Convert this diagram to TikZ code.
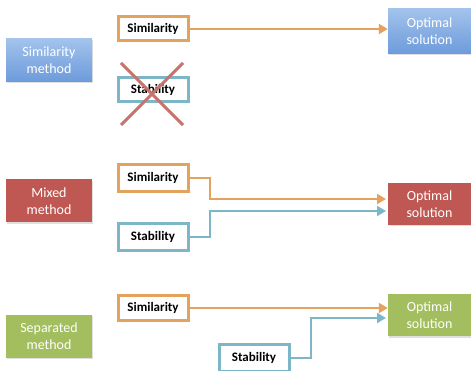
\documentclass[tikz,border=0pt]{standalone}
\usepackage{fontspec}
\setmainfont{Carlito}
\usetikzlibrary{arrows.meta,shadows}
\definecolor{orng}{HTML}{E3A35E}
\definecolor{blu}{HTML}{7DB6C6}
\definecolor{bluetop}{HTML}{A3C3EC}
\definecolor{bluebot}{HTML}{6D9BDB}
\definecolor{redbox}{HTML}{BF5752}
\definecolor{greenbox}{HTML}{A2BE5E}
\definecolor{xred}{HTML}{C8736B}
\tikzset{
  fillbox/.style={minimum width=86pt, minimum height=43pt, inner sep=0pt, align=center,
    text=white, font=\fontsize{14}{17}\selectfont,
    drop shadow={opacity=0.25, shadow xshift=1pt, shadow yshift=-1.5pt}},
  bluebox/.style={fillbox, top color=bluetop, bottom color=bluebot},
  redfill/.style={fillbox, fill=redbox},
  greenfill/.style={fillbox, fill=greenbox},
  critbox/.style={minimum width=70pt, minimum height=24pt, inner sep=0pt, fill=white,
    line width=3pt, font=\fontsize{13}{15}\selectfont\bfseries},
  simbox/.style={critbox, draw=orng},
  stabbox/.style={critbox, draw=blu},
  oline/.style={draw=orng, line width=2.8pt, -{Triangle[length=9pt,width=10pt]}},
  bline/.style={draw=blu, line width=2.8pt, -{Triangle[length=9pt,width=10pt]}}
}
\begin{document}
\begin{tikzpicture}[x=1pt,y=-1pt]
\useasboundingbox (0,0) rectangle (471,371);
% row 1
\node[bluebox] (m1) at (49,60) {Similarity\\method};
\node[simbox] (sim1) at (153,29) {Similarity};
\node[stabbox] (stab1) at (153,90) {Stability};
\node[bluebox, minimum width=83pt, minimum height=45pt] (opt1) at (429.5,31) {Optimal\\solution};
\coordinate (xa) at (121,63);
\coordinate (xb) at (183,125);
\coordinate (xc) at (183,63);
\coordinate (xd) at (121,125);
\draw[xred, line width=3pt] (xa) -- (xb) (xc) -- (xd);
\draw[oline] (sim1.east) -- (sim1.east -| opt1.west);
% row 2
\node[redfill] (m2) at (49,201) {Mixed\\method};
\node[simbox, minimum height=27pt] (sim2) at (153,178) {Similarity};
\node[stabbox, minimum height=27pt] (stab2) at (153,237) {Stability};
\node[redfill, minimum width=83pt, minimum height=42pt] (opt2) at (429.5,204) {Optimal\\solution};
\coordinate (o2a) at (386,199);
\coordinate (o2b) at (386,211);
\draw[oline] (sim2.east) -- (210,178) -- (210,199) -- (o2a);
\draw[bline] (stab2.east) -- (210,237) -- (210,211) -- (o2b);
% row 3
\node[greenfill] (m3) at (49,336) {Separated\\method};
\node[simbox, minimum height=25pt] (sim3) at (153,308) {Similarity};
\node[stabbox, minimum height=27pt] (stab3) at (254,358) {Stability};
\node[greenfill, minimum width=83pt, minimum height=42pt] (opt3) at (429.5,315) {Optimal\\solution};
\coordinate (o3b) at (386,318);
\draw[oline] (sim3.east) -- (sim3.east -| opt3.west);
\draw[bline] (stab3.east) -- (311,358) -- (311,318) -- (o3b);
\end{tikzpicture}
\end{document}
